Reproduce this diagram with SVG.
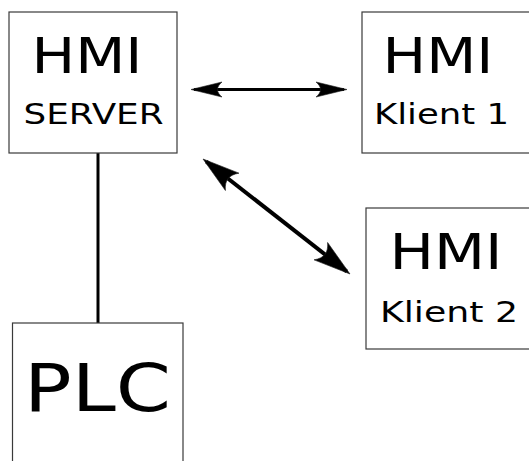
<svg xmlns="http://www.w3.org/2000/svg" width="529" height="461" viewBox="0 0 529 461">
<style>
.box{fill:#fff;stroke:#3a3a3a;stroke-width:1.2}
text{font-family:"DejaVu Sans",sans-serif;fill:#000;text-anchor:middle}
.big{font-size:50px}
.mid{font-size:29px}
.plc{font-size:66px}
.conn{stroke:#000;fill:none}
.head{fill:#000;stroke:#222;stroke-width:0.6}
</style>
<defs>
<marker id="ah" markerUnits="userSpaceOnUse" orient="auto-start-reverse" viewBox="-40 -15 50 30" markerWidth="50" markerHeight="30" refX="0" refY="0">
<path class="head" d="M3,0 L-28,-7.5 C-22,-2.5 -22,2.5 -28,7.5 Z"/>
</marker>
<marker id="ahd" markerUnits="userSpaceOnUse" orient="auto-start-reverse" viewBox="-40 -15 50 30" markerWidth="50" markerHeight="30" refX="0" refY="0">
<path class="head" d="M4,0 L-33,-11 C-26,-3.5 -26,3.5 -33,11 Z"/>
</marker>
</defs>
<rect width="529" height="461" fill="#fff"/>
<g id="connectors">
<line class="conn" x1="98" y1="153" x2="98" y2="323" stroke-width="3"/>
<line class="conn" x1="194" y1="89.5" x2="344" y2="89.5" stroke-width="3" marker-start="url(#ah)" marker-end="url(#ah)"/>
<line class="conn" x1="206.2" y1="161.5" x2="346.8" y2="271.5" stroke-width="4" marker-start="url(#ahd)" marker-end="url(#ahd)"/>
</g>
<g id="server">
<rect class="box" x="9" y="12" width="168" height="141"/>
<text class="big" x="87" y="73" textLength="111" lengthAdjust="spacingAndGlyphs">HMI</text>
<text class="mid" x="93.5" y="124" textLength="140" lengthAdjust="spacingAndGlyphs">SERVER</text>
</g>
<g id="klient1">
<rect class="box" x="362" y="12" width="180" height="141"/>
<text class="big" x="438" y="73" textLength="111" lengthAdjust="spacingAndGlyphs">HMI</text>
<text class="mid" x="441.5" y="124" textLength="135" lengthAdjust="spacingAndGlyphs">Klient 1</text>
</g>
<g id="klient2">
<rect class="box" x="366" y="208" width="180" height="141"/>
<text class="big" x="446" y="269" textLength="113" lengthAdjust="spacingAndGlyphs">HMI</text>
<text class="mid" x="449" y="322" textLength="138" lengthAdjust="spacingAndGlyphs">Klient 2</text>
</g>
<g id="plc">
<rect class="box" x="12.5" y="323" width="170.5" height="150"/>
<text class="plc" x="97.5" y="411" textLength="147" lengthAdjust="spacingAndGlyphs">PLC</text>
</g>
</svg>
